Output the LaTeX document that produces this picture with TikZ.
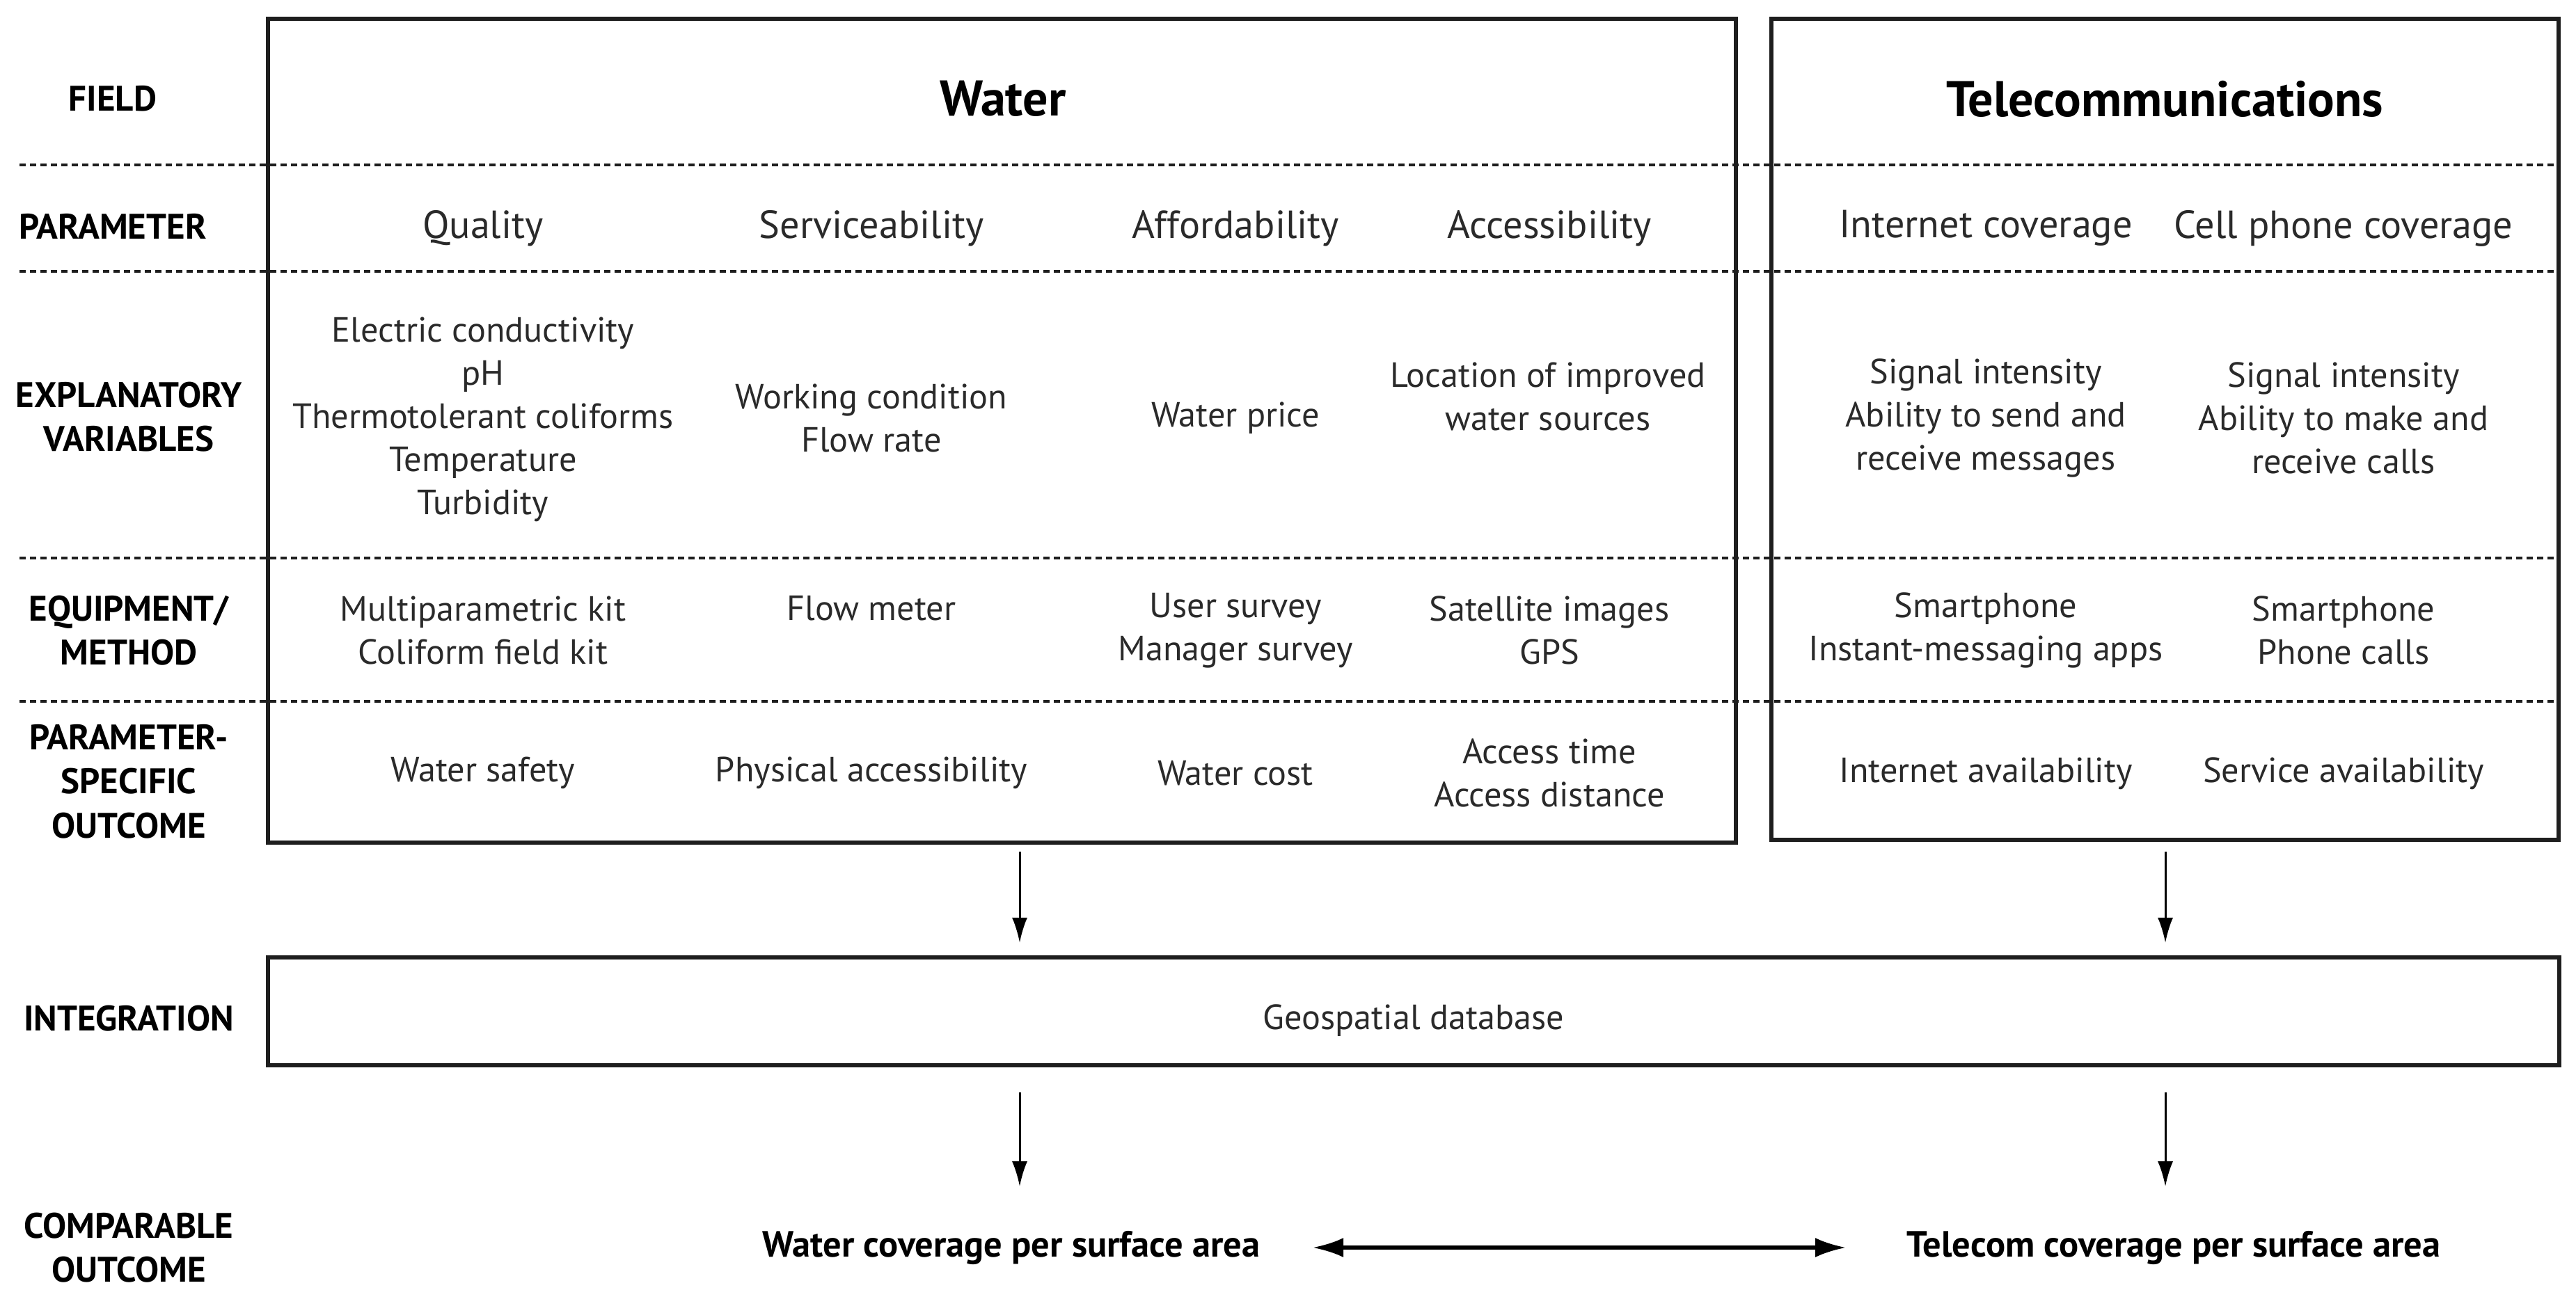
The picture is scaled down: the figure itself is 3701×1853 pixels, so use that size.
\documentclass[tikz,border=0pt]{standalone}
\usepackage{fontspec}
\setmainfont{PT Sans}
\usetikzlibrary{arrows.meta}
\definecolor{txtgray}{HTML}{2A2A2A}
\definecolor{linecol}{HTML}{1E1E1E}
\begin{document}
\begin{tikzpicture}[x=0.01cm,y=-0.01cm,
  box/.style={draw=linecol, line width=1.7pt, inner sep=0pt, outer sep=0pt},
  lbl/.style={font=\bfseries\fontsize{14.5}{18}\selectfont, align=center, text=black, inner sep=0pt},
  txt/.style={font=\fontsize{14.3}{17.6}\selectfont, align=center, text=txtgray, inner sep=0pt},
  ptxt/.style={font=\fontsize{16}{19}\selectfont, align=center, text=txtgray, inner sep=0pt},
  ttl/.style={font=\bfseries\fontsize{20.5}{24}\selectfont, text=black, inner sep=0pt},
  res/.style={font=\bfseries\fontsize{14.9}{18}\selectfont, text=black, inner sep=0pt},
  sep/.style={draw=linecol, line width=1.3pt, dash pattern=on 0.09cm off 0.06cm},
  arr/.style={draw=black, line width=0.85pt, -{Latex[length=0.36cm,width=0.22cm]}},
  darr/.style={draw=black, line width=1.5pt, {Latex[length=0.44cm,width=0.28cm]}-{Latex[length=0.44cm,width=0.28cm]}}
]
\fill[white] (0,0) rectangle (3701,1853);
\useasboundingbox (0,0) rectangle (3701,1853);

% boxes
\node[box, minimum width=21.07cm, minimum height=11.84cm] (water) at (1439.5,619) {};
\node[box, minimum width=11.31cm, minimum height=11.80cm] (tele) at (3110.5,617) {};
\node[box, minimum width=32.90cm, minimum height=1.55cm] (integ) at (2031,1453.5) {};

% dashed separators
\foreach \yy in {237,390,802,1008}{
  \draw[sep] (28,\yy) -- (3676,\yy);
}

% row labels
\node[lbl] (lfield) at (162,142) {FIELD};
\node[lbl] (lparam) at (162,325) {PARAMETER};
\node[lbl] (lexpl) at (185,599) {EXPLANATORY\\VARIABLES};
\node[lbl] (lequip) at (185,906) {EQUIPMENT/\\METHOD};
\node[lbl] (lout) at (185,1123) {PARAMETER-\\SPECIFIC\\OUTCOME};
\node[lbl] (linteg) at (185,1464) {INTEGRATION};
\node[lbl] (lcomp) at (185,1793) {COMPARABLE\\OUTCOME};

% titles
\node[ttl] (twater) at (1441,142) {Water};
\node[ttl] (ttele) at (3110,142) {Telecommunications};

% parameters
\node[ptxt] (pq) at (694,328) {Quality};
\node[ptxt] (ps) at (1252,328) {Serviceability};
\node[ptxt] (pa) at (1775,328) {Affordability};
\node[ptxt] (pacc) at (2226,328) {Accessibility};
\node[ptxt] (pi) at (2853,328) {Internet coverage};
\node[ptxt] (pc) at (3367,328) {Cell phone coverage};

% explanatory variables
\node[txt] (eq) at (694,603) {Electric conductivity\\pH\\Thermotolerant coliforms\\Temperature\\Turbidity};
\node[txt] (es) at (1252,601) {Working condition\\Flow rate};
\node[txt] (ea) at (1775,601) {Water price};
\node[txt] (eacc) at (2224,570) {Location of improved\\water sources};
\node[txt] (ei) at (2853,601) {Signal intensity\\Ability to send and\\receive messages};
\node[txt] (ec) at (3367,601) {Signal intensity\\Ability to make and\\receive calls};

% equipment / method
\node[txt] (mq) at (694,906) {Multiparametric kit\\Coliform field kit};
\node[txt] (ms) at (1252,874) {Flow meter};
\node[txt] (ma) at (1775,906) {User survey\\Manager survey};
\node[txt] (macc) at (2226,906) {Satellite images\\GPS};
\node[txt] (mi) at (2853,906) {Smartphone\\Instant-messaging apps};
\node[txt] (mc) at (3367,906) {Smartphone\\Phone calls};

% parameter-specific outcome
\node[txt] (oq) at (694,1111) {Water safety};
\node[txt] (os) at (1252,1111) {Physical accessibility};
\node[txt] (oa) at (1775,1111) {Water cost};
\node[txt] (oacc) at (2226,1111) {Access time\\Access distance};
\node[txt] (oi) at (2853,1112) {Internet availability};
\node[txt] (oc) at (3367,1112) {Service availability};

% integration
\node[txt] (geo) at (2031,1467) {Geospatial database};

% comparable outcomes
\node[res] (wcov) at (1453,1793) {Water coverage per surface area};
\node[res] (tcov) at (3123,1793) {Telecom coverage per surface area};

% arrows
\coordinate (wx) at (1465,0);
\coordinate (tx) at (3111,0);
\draw[arr, shorten <=0.13cm, shorten >=0.21cm] (water.south -| wx) -- (integ.north -| wx);
\draw[arr, shorten <=0.17cm, shorten >=0.21cm] (tele.south -| tx) -- (integ.north -| tx);
\draw[arr, shorten <=0.39cm, shorten >=0.63cm] (integ.south -| wx) -- (wcov.north -| wx);
\draw[arr, shorten <=0.39cm, shorten >=0.63cm] (integ.south -| tx) -- (tcov.north -| tx);
\draw[darr, shorten <=0.75cm, shorten >=0.87cm] (wcov.east) -- (tcov.west);
\end{tikzpicture}
\end{document}
